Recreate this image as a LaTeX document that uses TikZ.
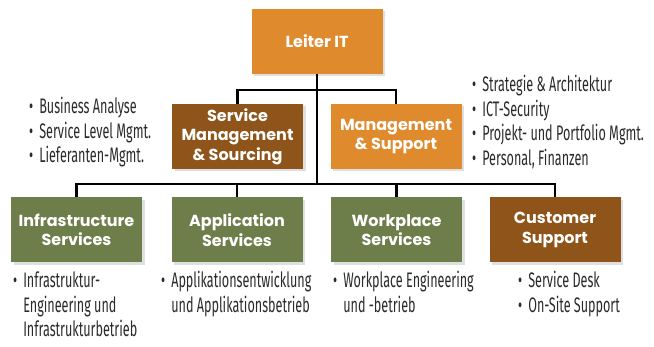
\documentclass[tikz,border=0pt]{standalone}
\usepackage{fontspec}
\setmainfont{Fira Sans}
\newfontfamily\boxfont{Poppins}
\newfontfamily\listfont{Fira Sans}[FakeStretch=0.60]
\usetikzlibrary{shadows}

\definecolor{unitorange}{HTML}{E08A2E}
\definecolor{unitbrown}{HTML}{8E5419}
\definecolor{unitgreen}{HTML}{6E7E4A}
\definecolor{listgray}{HTML}{2B2B2B}

\tikzset{
  unit/.style={draw=none, minimum width=131pt, minimum height=65pt,
    inner sep=2pt, align=center, text=white,
    font=\boxfont\bfseries\fontsize{16}{19.5}\selectfont,
    drop shadow={opacity=0.25, shadow xshift=2.5pt, shadow yshift=-2.5pt}},
  orangeunit/.style={unit, fill=unitorange},
  brownunit/.style={unit, fill=unitbrown},
  greenunit/.style={unit, fill=unitgreen},
  duties/.style={anchor=base west, inner sep=0pt, text=listgray,
    font=\listfont\fontsize{21}{24.5}\selectfont},
  link/.style={line width=2.4pt, draw=black}
}
\newcommand{\dutylist}[1]{\begin{tabular}[t]{@{}l@{\hspace{6pt}}l@{}}#1\end{tabular}}

\begin{document}
\begin{tikzpicture}[x=1pt, y=-1pt]
  \useasboundingbox[fill=white] (0,0) rectangle (654,347);

  % management level
  \node[orangeunit] (leiter) at (317,41.5) {Leiter IT};
  \node[brownunit]  (sms) at (237.5,136.5) {Service\\Management\\\& Sourcing};
  \node[orangeunit] (mgs) at (396,136.5) {Management\\\& Support};

  % service units
  \node[greenunit] (infra) at (76.5,230) {Infrastructure\\Services};
  \node[greenunit] (appl)  at (237,230)  {Application\\Services};
  \node[greenunit] (work)  at (396.5,230) {Workplace\\Services};
  \node[brownunit] (cust)  at (555,230)  {Customer\\Support};

  % junctions of the tree
  \coordinate (jup)  at (317,90);
  \coordinate (jlow) at (317,184);

  % connectors
  \draw[link] (leiter.south) -- (jlow);
  \draw[link] (sms.north) |- (jup) -| (mgs.north);
  \draw[link] (infra.north) |- (jlow) -| (cust.north);
  \draw[link] (appl.north) |- (jlow);
  \draw[link] (work.north) |- (jlow);

  % task lists
  \node[duties] (smslist) at (29,114) {\dutylist{%
    • & Business Analyse\\
    • & Service Level Mgmt.\\
    • & Lieferanten-Mgmt.}};
  \node[duties] (mgslist) at (472,92) {\dutylist{%
    • & Strategie \& Architektur\\
    • & ICT-Security\\
    • & Projekt- und Portfolio Mgmt.\\
    • & Personal, Finanzen}};
  \node[duties] (infralist) at (13,288) {\dutylist{%
    • & Infrastruktur-\\
      & Engineering und\\
      & Infrastrukturbetrieb}};
  \node[duties] (appllist) at (161,288) {\dutylist{%
    • & Applikationsentwicklung\\
      & und Applikationsbetrieb}};
  \node[duties] (worklist) at (333,288) {\dutylist{%
    • & Workplace Engineering\\
      & und -betrieb}};
  \node[duties] (custlist) at (518,288) {\dutylist{%
    • & Service Desk\\
    • & On-Site Support}};
\end{tikzpicture}
\end{document}
